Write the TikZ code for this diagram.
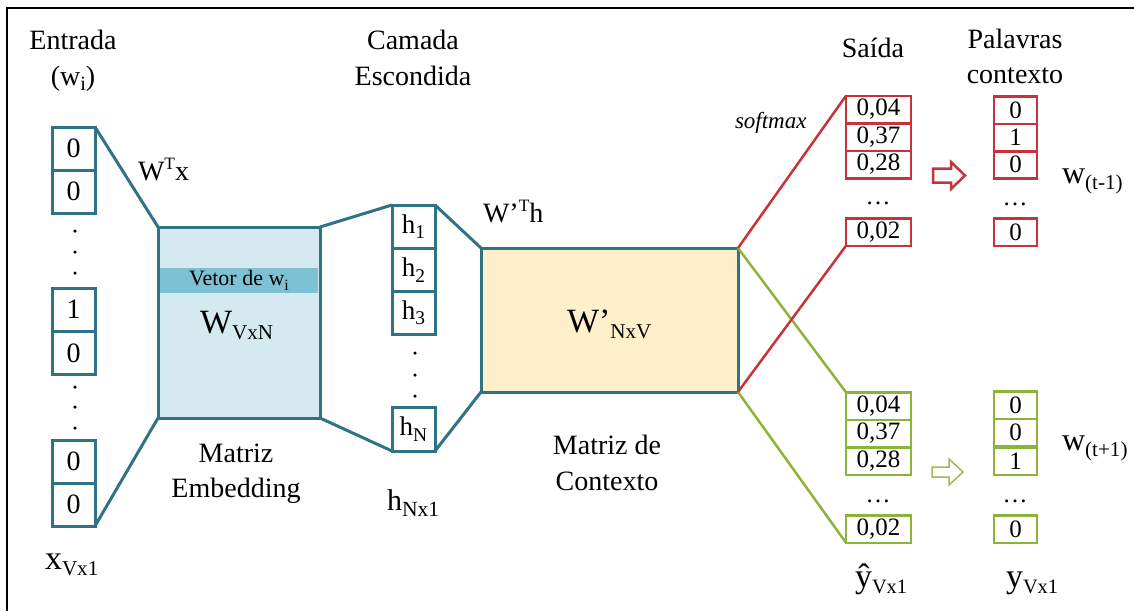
\documentclass[tikz,border=0pt]{standalone}
\usepackage{fontspec}
\setmainfont{Liberation Serif}

\definecolor{tealline}{HTML}{2F7385}
\definecolor{embfill}{HTML}{D5EAF0}
\definecolor{stripe}{HTML}{7DC2D3}
\definecolor{ctxfill}{HTML}{FFF0CC}
\definecolor{outred}{HTML}{C8323A}
\definecolor{outgreen}{HTML}{8DB33A}
\definecolor{arrgreen}{HTML}{9BBB59}

% lowered / raised small text for indices
\newcommand\lo[2][0.72]{\raisebox{-0.2em}{\scalebox{#1}{#2}}}
\newcommand\hi[1]{\raisebox{0.36em}{\scalebox{0.62}{#1}}}

\begin{document}
\begin{tikzpicture}[x=1pt,y=-1pt,
  every node/.style={inner sep=0pt, outer sep=0pt, font=\fontsize{28}{33}\selectfont},
  bigtxt/.style={font=\fontsize{34}{38}\selectfont},
  cell/.style={draw=tealline, line width=3pt, minimum width=43pt, minimum height=43pt},
  hcell/.style={cell, font=\fontsize{27}{30}\selectfont},
  matbox/.style={draw=tealline, line width=3pt},
  conn/.style={draw=tealline, line width=3pt},
  outcell/.style={line width=2.5pt, minimum width=65pt, minimum height=27.5pt, font=\fontsize{25}{28}\selectfont},
  wordcell/.style={line width=2.5pt, minimum width=43pt, minimum height=27.5pt, font=\fontsize{25}{28}\selectfont},
  redline/.style={draw=outred, line width=2.5pt},
  greenline/.style={draw=outgreen, line width=2.5pt},
  vdot/.style={fill=black, circle, minimum size=3.5pt},
]
\useasboundingbox (0,0) rectangle (1134,611);

% frame
\draw[line width=2pt] (7,611) -- (7,8) -- (1134,8);

% input one-hot vector
\node[cell] (x1) at (73.5,148.5) {0};
\node[cell] (x2) at (73.5,191.5) {0};
\node[cell] (x3) at (73.5,309.5) {1};
\node[cell] (x4) at (73.5,353) {0};
\node[cell] (x5) at (73.5,461.5) {0};
\node[cell] (x6) at (73.5,504.5) {0};
\foreach \yy [count=\i] in {231,252,273,387,407,428}
  \node[vdot] (xd\i) at (75,\yy) {};

% embedding matrix
\node[matbox, fill=embfill, minimum width=162pt, minimum height=191pt] (emb) at (239,322.5) {};
\node[fill=stripe, minimum width=158pt, minimum height=25pt, font=\fontsize{22}{25}\selectfont] (vec) at (239,280.5) {Vetor de w\lo{i}};
\node[anchor=base west, bigtxt] (wvn) at (200,333) {W\lo[0.62]{VxN}};

% hidden layer
\node[hcell] (h1) at (413.5,226.5) {h\lo{1}};
\node[hcell] (h2) at (413.5,270) {h\lo{2}};
\node[hcell] (h3) at (413.5,313) {h\lo{3}};
\node[hcell, minimum height=44pt] (hN) at (413.5,429) {h\lo{N}};
\foreach \yy [count=\i] in {353,375,396}
  \node[vdot] (hd\i) at (415,\yy) {};

% context matrix
\node[matbox, fill=ctxfill, minimum width=257pt, minimum height=144pt] (ctx) at (609.5,320) {};
\node[anchor=base west, bigtxt] (wnv) at (567,332) {W’\lo[0.62]{NxV}};

% teal connectors
\draw[conn] (x1.north east) -- (emb.north west);
\draw[conn] (x6.south east) -- (emb.south west);
\draw[conn] (emb.north east) -- (h1.north west);
\draw[conn] (emb.south east) -- (hN.south west);
\draw[conn] (h1.north east) -- (ctx.north west);
\draw[conn] (hN.south east) -- (ctx.south west);

% output (softmax) vectors
\node[outcell, draw=outred] (r1) at (878.5,109.5) {0,04};
\node[outcell, draw=outred] (r2) at (878.5,137) {0,37};
\node[outcell, draw=outred] (r3) at (878.5,164.5) {0,28};
\node[outcell, draw=outred] (r4) at (878.5,232) {0,02};
\node[anchor=base, font=\fontsize{25}{28}\selectfont] (rdots) at (878,204) {…};

\node[outcell, draw=outgreen] (g1) at (878.5,406) {0,04};
\node[outcell, draw=outgreen] (g2) at (878.5,433.5) {0,37};
\node[outcell, draw=outgreen] (g3) at (878.5,461) {0,28};
\node[outcell, draw=outgreen] (g4) at (878.5,529) {0,02};
\node[anchor=base, font=\fontsize{25}{28}\selectfont] (gdots) at (878,502) {…};

% context word vectors
\node[wordcell, draw=outred] (c1) at (1015.5,110) {0};
\node[wordcell, draw=outred] (c2) at (1015.5,137.5) {1};
\node[wordcell, draw=outred] (c3) at (1015.5,164.5) {0};
\node[wordcell, draw=outred] (c4) at (1015.5,232) {0};
\node[anchor=base, font=\fontsize{25}{28}\selectfont] (cdots) at (1015,205) {…};

\node[wordcell, draw=outgreen] (d1) at (1015.5,405) {0};
\node[wordcell, draw=outgreen] (d2) at (1015.5,432.5) {0};
\node[wordcell, draw=outgreen] (d3) at (1015.5,461) {1};
\node[wordcell, draw=outgreen] (d4) at (1015.5,529) {0};
\node[anchor=base, font=\fontsize{25}{28}\selectfont] (ddots) at (1015,502) {…};

% output connectors
\draw[greenline] (ctx.north east) -- (g1.north west);
\draw[greenline] (ctx.south east) -- (g4.south west);
\draw[redline] (ctx.north east) -- (r1.north west);
\draw[redline] (ctx.south east) -- (r4.south west);

% block arrows
\draw[draw=outred, line width=2.5pt, fill=white, shift={(949,175.5)}]
  (-16,-7) -- (2,-7) -- (2,-13.5) -- (16,0) -- (2,13.5) -- (2,7) -- (-16,7) -- cycle;
\draw[draw=arrgreen, line width=1.5pt, fill=white, shift={(947.5,472)}]
  (-15.5,-5) -- (1.5,-5) -- (1.5,-13) -- (15.5,0) -- (1.5,13) -- (1.5,5) -- (-15.5,5) -- cycle;

% labels
\node[anchor=base] (entrada) at (73,49) {Entrada};
\node[anchor=base] (inw) at (73,85) {(w\lo{i})};
\node[anchor=base west] (wtx) at (138,180) {W\hi{T}x};
\node[anchor=base west, bigtxt] (xv) at (45,569) {x\lo[0.62]{Vx1}};
\node[anchor=base] (me1) at (236,462) {Matriz};
\node[anchor=base] (me2) at (236,497) {Embedding};

\node[anchor=base] (cam1) at (413,49) {Camada};
\node[anchor=base] (cam2) at (413,85) {Escondida};
\node[anchor=base west, font=\fontsize{30}{34}\selectfont] (hn) at (387,510) {h\lo{Nx1}};
\node[anchor=base west] (wth) at (483,222) {W’\hi{T}h};
\node[anchor=base] (mc1) at (607,454) {Matriz de};
\node[anchor=base] (mc2) at (607,490) {Contexto};

\node[anchor=base west, font=\fontsize{23}{26}\selectfont\itshape] (soft) at (735,128) {softmax};
\node[anchor=base] (saida) at (873,57) {Saída};
\node[anchor=base] (pal1) at (1015,48) {Palavras};
\node[anchor=base] (pal2) at (1015,83) {contexto};
\node[anchor=base west, font=\fontsize{32}{36}\selectfont] (wm) at (1062,183) {w\lo[0.66]{(t-1)}};
\node[anchor=base west, font=\fontsize{32}{36}\selectfont] (wp) at (1062,450) {w\lo[0.66]{(t+1)}};
\node[anchor=base west, bigtxt] (yhat) at (855,587) {ŷ\lo[0.6]{Vx1}};
\node[anchor=base west, bigtxt] (yv) at (1006,587) {y\lo[0.6]{Vx1}};
\end{tikzpicture}
\end{document}
